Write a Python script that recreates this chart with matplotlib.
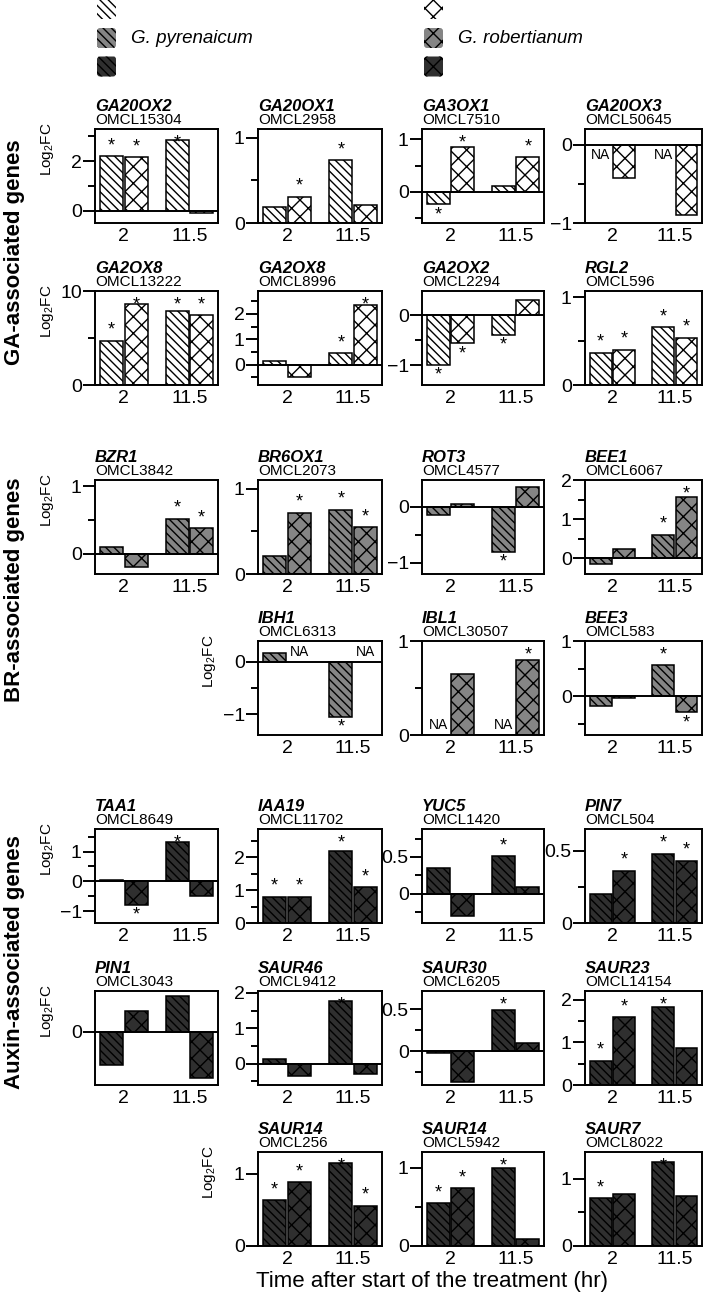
import matplotlib
matplotlib.use("Agg")
import matplotlib.pyplot as plt
from matplotlib.patches import FancyBboxPatch

plt.rcParams['font.family'] = ['Liberation Sans', 'DejaVu Sans']
plt.rcParams['mathtext.fontset'] = 'custom'
plt.rcParams['mathtext.rm'] = 'Liberation Sans'
plt.rcParams['mathtext.it'] = 'Liberation Sans:italic'
plt.rcParams['mathtext.bf'] = 'Liberation Sans:bold'
plt.rcParams['hatch.linewidth'] = 1.0

# ------------------------------------------------------------------ data
time_points = ['2', '11.5']
species = ['G. pyrenaicum', 'G. robertianum']
hormone_groups = ['GA-associated genes', 'BR-associated genes', 'Auxin-associated genes']
x_title = 'Time after start of the treatment (hr)'

gene_names = ['GA20OX2', 'GA20OX1', 'GA3OX1', 'GA20OX3',
              'GA2OX8', 'GA2OX8', 'GA2OX2', 'RGL2',
              'BZR1', 'BR6OX1', 'ROT3', 'BEE1',
              'IBH1', 'IBL1', 'BEE3',
              'TAA1', 'IAA19', 'YUC5', 'PIN7',
              'PIN1', 'SAUR46', 'SAUR30', 'SAUR23',
              'SAUR14', 'SAUR14', 'SAUR7']
omcl_ids = ['OMCL15304', 'OMCL2958', 'OMCL7510', 'OMCL50645',
            'OMCL13222', 'OMCL8996', 'OMCL2294', 'OMCL596',
            'OMCL3842', 'OMCL2073', 'OMCL4577', 'OMCL6067',
            'OMCL6313', 'OMCL30507', 'OMCL583',
            'OMCL8649', 'OMCL11702', 'OMCL1420', 'OMCL504',
            'OMCL3043', 'OMCL9412', 'OMCL6205', 'OMCL14154',
            'OMCL256', 'OMCL5942', 'OMCL8022']
gene_group = [0] * 8 + [1] * 7 + [2] * 11

# Log2FC at 2 h and 11.5 h (None = NA)
gp_log2fc = [[2.21, 2.86], [0.19, 0.735], [-0.24, 0.10], [None, None],
             [4.70, 7.86], [0.16, 0.45], [-0.99, -0.39], [0.365, 0.66],
             [0.105, 0.515], [0.21, 0.75], [-0.15, -0.80], [-0.14, 0.60],
             [0.17, -1.05], [None, None], [-0.17, 0.575],
             [0.03, 1.33], [0.80, 2.17], [0.35, 0.51], [0.20, 0.48],
             [-0.65, 0.70], [0.14, 1.77], [-0.02, 0.49], [0.57, 1.82],
             [0.63, 1.15], [0.545, 0.99], [0.71, 1.25]]
gr_log2fc = [[2.15, -0.10], [0.31, 0.21], [0.85, 0.66], [-0.43, -0.90],
             [8.65, 7.50], [-0.48, 2.35], [-0.56, 0.31], [0.40, 0.54],
             [-0.20, 0.38], [0.715, 0.55], [0.06, 0.36], [0.25, 1.57],
             [None, None], [0.645, 0.80], [-0.035, -0.29],
             [-0.79, -0.50], [0.79, 1.08], [-0.31, 0.09], [0.36, 0.43],
             [0.41, -0.91], [-0.36, -0.30], [-0.36, 0.10], [1.59, 0.87],
             [0.885, 0.56], [0.74, 0.09], [0.775, 0.745]]
gp_sig = [[1, 1], [0, 1], [1, 0], [0, 0],
          [1, 1], [0, 1], [1, 1], [1, 1],
          [0, 1], [0, 1], [0, 1], [0, 1],
          [0, 1], [0, 0], [0, 1],
          [0, 1], [1, 1], [0, 1], [0, 1],
          [0, 0], [0, 1], [0, 1], [1, 1],
          [1, 1], [1, 1], [1, 1]]
gr_sig = [[1, 0], [1, 0], [1, 1], [0, 0],
          [1, 1], [0, 1], [1, 0], [1, 1],
          [0, 1], [1, 1], [0, 0], [0, 1],
          [0, 0], [0, 1], [0, 1],
          [1, 0], [1, 1], [0, 0], [1, 1],
          [0, 0], [0, 0], [0, 0], [1, 0],
          [1, 1], [1, 0], [0, 0]]

# y-axis settings per panel
y_limits = [(-0.5, 3.3), (0, 1.1), (-0.6, 1.2), (-1.0, 0.2),
            (0, 10), (-0.8, 2.9), (-1.4, 0.49), (0, 1.07),
            (-0.3, 1.09), (0, 1.1), (-1.2, 0.48), (-0.4, 2.0),
            (-1.4, 0.4), (0, 1.0), (-0.7, 1.0),
            (-1.4, 1.76), (0, 2.85), (-0.4, 0.88), (0, 0.65),
            (-1.05, 0.8), (-0.6, 2.05), (-0.4, 0.72), (0, 2.2),
            (0, 1.3), (0, 1.2), (0, 1.4)]
y_major = [[0, 2], [0, 1], [0, 1], [-1, 0],
           [0, 10], [0, 1, 2], [-1, 0], [0, 1],
           [0, 1], [0, 1], [-1, 0], [0, 1, 2],
           [-1, 0], [0, 1], [0, 1],
           [-1, 0, 1], [0, 1, 2], [0, 0.5], [0, 0.5],
           [0], [0, 1, 2], [0, 0.5], [0, 1, 2],
           [0, 1], [0, 1], [0, 1]]
y_minor = [[1, 3], [0.5], [-0.5, 0.5], [-0.5],
           [5], [-0.5, 0.5, 1.5, 2.5], [-0.5], [0.5],
           [0.5], [0.5], [-0.5], [0.5, 1.5],
           [-0.5], [0.5], [-0.5, 0.5],
           [-0.5, 0.5, 1.5], [0.5, 1.5, 2.5], [-0.25, 0.25, 0.75], [0.25],
           [], [-0.5, 0.5, 1.5], [-0.25, 0.25], [0.5, 1.5],
           [], [0.5], [0.5]]
panel_row = [0, 0, 0, 0, 1, 1, 1, 1, 2, 2, 2, 2, 3, 3, 3,
             4, 4, 4, 4, 5, 5, 5, 5, 6, 6, 6]
panel_col = [0, 1, 2, 3, 0, 1, 2, 3, 0, 1, 2, 3, 1, 2, 3,
             0, 1, 2, 3, 0, 1, 2, 3, 1, 2, 3]
na_side = {3: -1, 12: 1, 13: 1}

# ------------------------------------------------------------------ style
W, H = 709, 1299
group_colors = ['white', '#858585', '#2f2f2f']
species_hatch = ['\\\\\\\\', 'xx']
col_left = [95, 258, 422, 585]
col_width = [123, 124, 122, 117]
row_top = [129, 291, 480, 641, 829, 991, 1152]
panel_h = 94
group_center_y = [252, 590, 962]

fig = plt.figure(figsize=(W / 100, H / 100), dpi=100)


def fmt(v):
    s = f"{v:g}"
    return s.replace('-', '\u2212')


group_x = [0.0, 1.0]
offset = 0.187
bar_w = 0.35

first_in_row = set()
seen = set()
for i, r in enumerate(panel_row):
    if r not in seen:
        seen.add(r)
        first_in_row.add(i)

for i in range(len(gene_names)):
    r, c = panel_row[i], panel_col[i]
    left = col_left[c] / W
    bottom = 1 - (row_top[r] + panel_h) / H
    ax = fig.add_axes([left, bottom, col_width[c] / W, panel_h / H])
    lo, hi = y_limits[i]
    ax.set_ylim(lo, hi)
    ax.set_xlim(-0.438, 1.435)
    ppu = panel_h / (hi - lo)
    fc = group_colors[gene_group[i]]

    for s, (vals, sig) in enumerate([(gp_log2fc[i], gp_sig[i]), (gr_log2fc[i], gr_sig[i])]):
        for t in range(2):
            x = group_x[t] + (offset if s else -offset)
            v = vals[t]
            if v is None:
                side = na_side.get(i, 1)
                yc = side * 10 / ppu
                ax.text(x, yc, 'NA', ha='center', va='center', fontsize=10)
                continue
            ax.bar(x, v, width=bar_w, color=fc, edgecolor='black',
                   linewidth=1.1, hatch=species_hatch[s], zorder=2)
            if sig[t]:
                if v >= 0:
                    yc = min(v + 15 / ppu, hi - 9 / ppu)
                else:
                    yc = max(v - 6 / ppu, lo + 7 / ppu)
                ax.annotate('*', xy=(x, yc), xytext=(0, -6.5),
                            textcoords='offset points', ha='center',
                            va='baseline', fontsize=13, zorder=4)

    ax.axhline(0, color='black', linewidth=1.4, zorder=3)
    ax.set_xticks(group_x)
    ax.set_xticklabels(time_points)
    ax.tick_params(axis='x', length=0, pad=3.5, labelsize=14)
    ax.set_yticks(y_major[i])
    ax.set_yticklabels([fmt(v) for v in y_major[i]])
    ax.set_yticks(y_minor[i], minor=True)
    ax.tick_params(axis='y', which='major', length=8.5, width=1.4,
                   pad=1, labelsize=14)
    ax.tick_params(axis='y', which='minor', length=5, width=1.4)
    for sp in ax.spines.values():
        sp.set_linewidth(1.4)

    ax.text(0, 1 + 18.3 / panel_h, gene_names[i], transform=ax.transAxes,
            fontsize=12, fontweight='bold', fontstyle='italic',
            ha='left', va='baseline')
    ax.text(0, 1 + 5 / panel_h, omcl_ids[i], transform=ax.transAxes,
            fontsize=11, ha='left', va='baseline')
    if i in first_in_row:
        ax.text(-48 / col_width[c], 1 + 7 / panel_h, 'Log$_\\mathregular{2}$FC',
                transform=ax.transAxes, rotation=90, ha='center', va='top',
                fontsize=11)

for g, name in enumerate(hormone_groups):
    fig.text(15 / W, 1 - group_center_y[g] / H, name, rotation=90,
             ha='center', va='center', fontsize=16, fontweight='bold')

fig.text(432 / W, 1 - 1282 / H, x_title, ha='center', va='center', fontsize=16)

# legend (drawn in pixel space)
lax = fig.add_axes([0, 0, 1, 1], zorder=-1)
lax.set_xlim(0, W)
lax.set_ylim(H, 0)
lax.axis('off')
leg_x = [97, 424]
leg_row_y = [9, 38, 66.5]
for s in range(2):
    for g in range(3):
        p = FancyBboxPatch((leg_x[s], leg_row_y[g] - 10), 19, 20,
                           boxstyle='round,pad=0,rounding_size=3',
                           facecolor=group_colors[g], edgecolor='black',
                           linewidth=0, hatch=species_hatch[s])
        lax.add_patch(p)
    lax.text(leg_x[s] + 34, leg_row_y[1], species[s], fontsize=13.5,
             fontstyle='italic', ha='left', va='center')

fig.savefig('out.png', dpi=100)
